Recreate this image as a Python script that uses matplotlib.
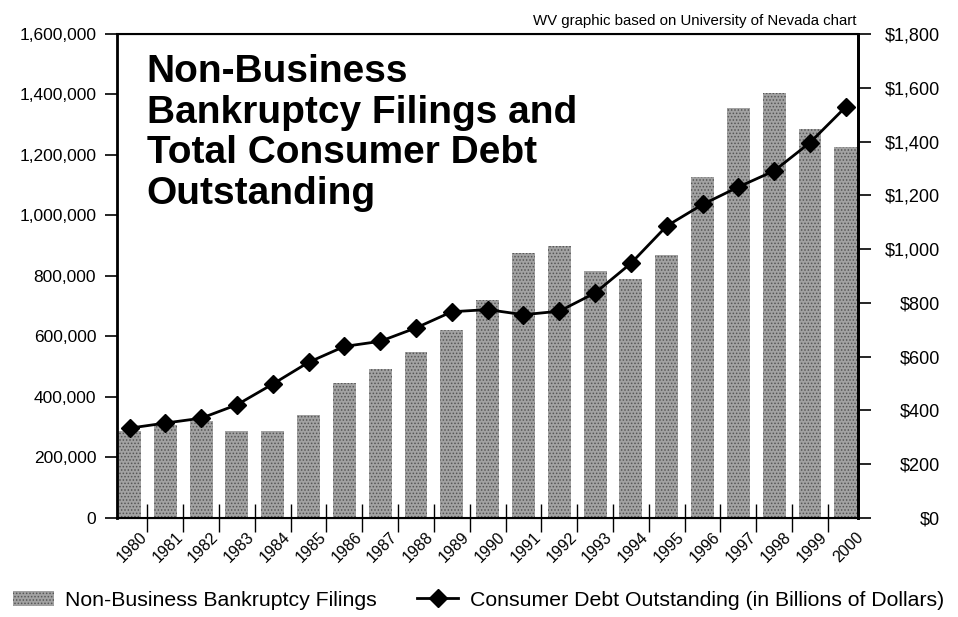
import numpy as np
import matplotlib
matplotlib.use("Agg")
import matplotlib.pyplot as plt
from matplotlib.ticker import FuncFormatter

plt.rcParams['font.family'] = ['Liberation Sans', 'DejaVu Sans']
plt.rcParams['hatch.linewidth'] = 0.7

years = ['1980', '1981', '1982', '1983', '1984', '1985', '1986', '1987', '1988', '1989', '1990',
         '1991', '1992', '1993', '1994', '1995', '1996', '1997', '1998', '1999', '2000']
filings = [287000, 308000, 319000, 286000, 286000, 339000, 446000, 494000, 548000, 620000, 720000,
           875000, 899000, 816000, 791000, 871000, 1127000, 1354000, 1404000, 1285000, 1227000]
debt = [334, 353, 371, 421, 498, 579, 638, 657, 707, 767, 775,
        756, 769, 837, 947, 1086, 1166, 1231, 1291, 1396, 1529]

x = np.arange(len(years))

fig = plt.figure(figsize=(9.58, 6.17), dpi=100)
ax = fig.add_axes([0.1221, 0.1605, 0.7735, 0.7844])

bars = ax.bar(x, filings, width=0.64, color='#a2a2a2', edgecolor='#555555',
              hatch='.....', linewidth=0, label='Non-Business Bankruptcy Filings')
ax.set_xlim(-0.35, 20.34)
ax.set_ylim(0, 1600000)
ax.set_yticks(np.arange(0, 1600001, 200000))
ax.yaxis.set_major_formatter(FuncFormatter(lambda v, p: f'{int(v):,}'))
ax.tick_params(axis='y', direction='out', length=9, width=1.2, labelsize=12.5, pad=6)

# x labels and dividers between years
ax.set_xticks(x + 0.27)
ax.set_xticklabels(years, rotation=45, ha='right', rotation_mode='anchor', fontsize=11.5)
ax.tick_params(axis='x', which='major', length=0, pad=8)
ax.set_xticks(x[:-1] + 0.5, minor=True)
ax.tick_params(axis='x', which='minor', direction='inout', length=20, width=1.0)

for side in ['left', 'right']:
    ax.spines[side].set_linewidth(2)
ax.spines['top'].set_linewidth(1.5)
ax.spines['bottom'].set_linewidth(1.5)

ax2 = ax.twinx()
line, = ax2.plot(x, debt, color='black', linewidth=2, marker='D', markersize=9.5,
                 label='Consumer Debt Outstanding (in Billions of Dollars)')
ax2.set_ylim(0, 1800)
ax2.set_yticks(np.arange(0, 1801, 200))
ax2.yaxis.set_major_formatter(FuncFormatter(lambda v, p: f'${int(v):,}'))
ax2.tick_params(axis='y', direction='out', length=9, width=1.2, labelsize=13, pad=50)
for lbl in ax2.get_yticklabels():
    lbl.set_horizontalalignment('right')
ax2.spines['right'].set_linewidth(2)

ax.text(0.04, 0.958, 'Non-Business\nBankruptcy Filings and\nTotal Consumer Debt\nOutstanding',
        transform=ax.transAxes, ha='left', va='top', fontsize=28, fontweight='bold',
        linespacing=1.16)

fig.text(0.894, 0.955, 'WV graphic based on University of Nevada chart',
         ha='right', va='bottom', fontsize=10.8)

fig.legend([bars, line], [bars.get_label(), line.get_label()], loc='center',
           bbox_to_anchor=(0.4995, 0.027), ncol=2, frameon=False, fontsize=15.3,
           handlelength=1.9, columnspacing=1.9, handletextpad=0.55)

fig.savefig('out.png', dpi=100)
